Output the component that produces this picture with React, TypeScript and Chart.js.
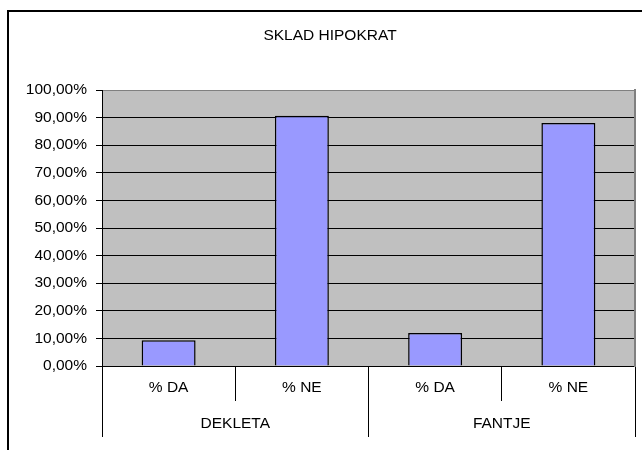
import React, { useEffect, useRef } from "react";
import { Chart, registerables } from "chart.js";

Chart.register(...registerables);

const titleText = "SKLAD HIPOKRAT";
const categories = ["% DA", "% NE", "% DA", "% NE"];
const groups = ["DEKLETA", "FANTJE"];
const values = [9.3, 90.7, 12.0, 88.0];
const yTicks = [0, 10, 20, 30, 40, 50, 60, 70, 80, 90, 100];

const FONT_FAMILY = "'Liberation Sans', Arial, sans-serif";
const FONT_SIZE = 15.5;
const W = 660;
const H = 460;

const framePlugin = {
  id: "framePlugin",
  beforeDraw(chart: any) {
    const { ctx, chartArea } = chart;
    ctx.save();
    ctx.fillStyle = "#ffffff";
    ctx.fillRect(0, 0, chart.width, chart.height);
    ctx.fillStyle = "#C0C0C0";
    ctx.fillRect(
      chartArea.left,
      chartArea.top,
      chartArea.right - chartArea.left,
      chartArea.bottom - chartArea.top
    );
    ctx.restore();
  },
  afterDraw(chart: any) {
    const { ctx } = chart;
    ctx.save();
    ctx.fillStyle = "#000000";
    ctx.fillRect(7, 10, chart.width, 2);
    ctx.fillRect(7, 10, 2, chart.height);
    ctx.restore();
  },
};

export default function App() {
  const ref = useRef<HTMLCanvasElement | null>(null);

  useEffect(() => {
    if (!ref.current) return;
    const font = { family: FONT_FAMILY, size: FONT_SIZE, lineHeight: 1.2 };
    const chart = new Chart(ref.current, {
      type: "bar",
      data: {
        labels: categories,
        datasets: [
          {
            data: values,
            backgroundColor: "#9999FF",
            borderColor: "#000000",
            borderWidth: 1.5,
            barPercentage: 0.405,
            categoryPercentage: 1,
            xAxisID: "x",
            yAxisID: "y",
          },
        ],
      },
      options: {
        responsive: false,
        animation: false,
        devicePixelRatio: 1,
        layout: { padding: { left: 8, right: 8, top: 10, bottom: 23 } },
        plugins: {
          legend: { display: false },
          tooltip: { enabled: false },
          title: {
            display: true,
            text: titleText,
            color: "#000000",
            font: { ...font, weight: "normal" },
            padding: { top: 16, bottom: 45.4 },
          },
        },
        scales: {
          x: {
            type: "category",
            position: "bottom",
            offset: true,
            grid: {
              display: true,
              drawOnChartArea: false,
              drawTicks: true,
              tickLength: 35,
              offset: true,
              color: "#000000",
              tickColor: "#000000",
            },
            border: { display: true, color: "#000000", width: 1 },
            ticks: {
              color: "#000000",
              font,
              padding: -22.3,
              maxRotation: 0,
              autoSkip: false,
            },
            afterFit(scale: any) {
              scale.height = 35;
            },
          },
          x2: {
            type: "category",
            position: "bottom",
            labels: groups,
            offset: true,
            grid: {
              display: true,
              drawOnChartArea: false,
              drawTicks: true,
              tickLength: 36,
              offset: true,
              color: "#000000",
              tickColor: "#000000",
            },
            border: { display: false },
            ticks: {
              color: "#000000",
              font,
              padding: -22.3,
              maxRotation: 0,
              autoSkip: false,
            },
            afterFit(scale: any) {
              scale.height = 36;
            },
          },
          y: {
            type: "linear",
            position: "left",
            min: 0,
            max: 100,
            afterBuildTicks(scale: any) {
              scale.ticks = yTicks.map((v) => ({ value: v }));
            },
            grid: {
              display: true,
              drawOnChartArea: true,
              drawTicks: true,
              tickLength: 6,
              color: (c: any) =>
                c.tick && c.tick.value === 100 ? "#808080" : "#000000",
              tickColor: "#000000",
              lineWidth: 1,
            },
            border: { display: true, color: "#000000", width: 1 },
            ticks: {
              color: "#000000",
              font,
              padding: 9,
              callback: (v: any) => Number(v).toFixed(2).replace(".", ",") + "%",
            },
            afterFit(scale: any) {
              scale.width = 94;
            },
          },
          y2: {
            type: "linear",
            position: "right",
            min: 0,
            max: 100,
            grid: { display: false, drawOnChartArea: false, drawTicks: false },
            border: { display: true, color: "#808080", width: 2 },
            ticks: { display: false },
            afterFit(scale: any) {
              scale.width = 17;
            },
          },
        },
      },
      plugins: [framePlugin],
    } as any);
    return () => chart.destroy();
  }, []);

  return (
    <div
      style={{
        position: "fixed",
        left: 0,
        top: 0,
        width: W,
        height: H,
        background: "#ffffff",
      }}
    >
      <canvas
        ref={ref}
        width={W}
        height={H}
        style={{ display: "block", width: W, height: H }}
      />
    </div>
  );
}
